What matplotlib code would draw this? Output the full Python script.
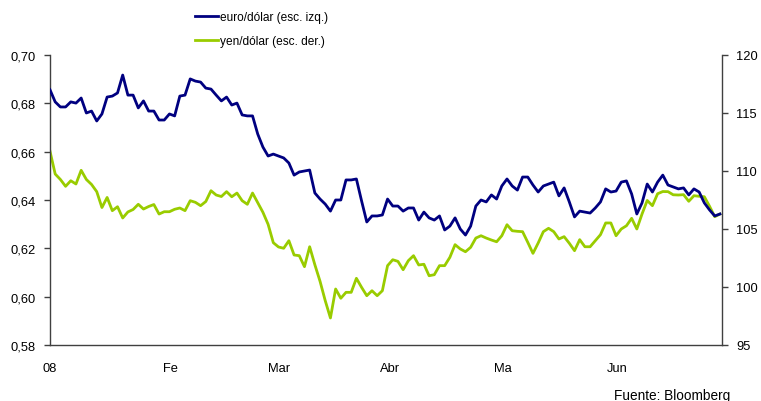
import matplotlib
matplotlib.use("Agg")
import matplotlib.pyplot as plt

euro = [0.6856, 0.6806, 0.6785, 0.6785, 0.6806, 0.6801, 0.6822, 0.6760, 0.6768, 0.6727,
        0.6756, 0.6826, 0.6830, 0.6843, 0.6917, 0.6834, 0.6834, 0.6781, 0.6810, 0.6768,
        0.6768, 0.6731, 0.6731, 0.6756, 0.6748, 0.6830, 0.6834, 0.6901, 0.6892, 0.6888,
        0.6863, 0.6859, 0.6834, 0.6810, 0.6826, 0.6793, 0.6801, 0.6752, 0.6748, 0.6748,
        0.6673, 0.6619, 0.6582, 0.6590, 0.6582, 0.6574, 0.6553, 0.6503, 0.6516, 0.6520,
        0.6524, 0.6429, 0.6404, 0.6383, 0.6354, 0.6400, 0.6400, 0.6483, 0.6483, 0.6487,
        0.6396, 0.6309, 0.6334, 0.6334, 0.6338, 0.6404, 0.6375, 0.6375, 0.6354, 0.6367,
        0.6367, 0.6317, 0.6350, 0.6326, 0.6317, 0.6334, 0.6276, 0.6292, 0.6326, 0.6280,
        0.6255, 0.6292, 0.6375, 0.6400, 0.6392, 0.6421, 0.6404, 0.6458, 0.6487, 0.6458,
        0.6441, 0.6495, 0.6495, 0.6462, 0.6433, 0.6458, 0.6466, 0.6474, 0.6417, 0.6450,
        0.6392, 0.6330, 0.6354, 0.6350, 0.6346, 0.6367, 0.6392, 0.6446, 0.6433, 0.6437,
        0.6474, 0.6479, 0.6425, 0.6342, 0.6388, 0.6466, 0.6433, 0.6474, 0.6503, 0.6462,
        0.6454, 0.6446, 0.6450, 0.6421, 0.6446, 0.6433, 0.6388, 0.6359, 0.6334, 0.6342]

yen = [111.70, 109.74, 109.27, 108.68, 109.16, 108.88, 110.06, 109.27, 108.84, 108.22,
       106.85, 107.72, 106.58, 106.92, 105.95, 106.47, 106.68, 107.13, 106.72, 106.94,
       107.11, 106.29, 106.49, 106.49, 106.70, 106.81, 106.58, 107.44, 107.30, 107.01,
       107.37, 108.30, 107.93, 107.80, 108.22, 107.78, 108.10, 107.44, 107.13, 108.10,
       107.27, 106.44, 105.40, 103.82, 103.45, 103.34, 103.99, 102.76, 102.70, 101.75,
       103.47, 101.92, 100.49, 98.82, 97.33, 99.83, 99.03, 99.54, 99.54, 100.75,
       99.97, 99.25, 99.68, 99.25, 99.68, 101.84, 102.35, 102.21, 101.49, 102.27,
       102.70, 101.90, 101.96, 100.97, 101.06, 101.84, 101.84, 102.56, 103.65, 103.28,
       103.04, 103.42, 104.22, 104.42, 104.22, 104.05, 103.90, 104.42, 105.37, 104.85,
       104.80, 104.77, 103.85, 102.90, 103.79, 104.77, 105.06, 104.77, 104.14, 104.34,
       103.77, 103.13, 104.08, 103.47, 103.47, 103.99, 104.51, 105.52, 105.52, 104.42,
       105.00, 105.28, 105.92, 105.00, 106.29, 107.46, 107.01, 108.04, 108.23, 108.22,
       107.95, 107.93, 107.96, 107.39, 107.87, 107.82, 107.78, 106.96, 106.06, 106.29]

month_labels = ["08", "Fe", "Mar", "Abr", "Ma", "Jun"]
month_pos = [0, 23.1, 44.1, 65.5, 87.2, 109.3]
left_ticks = [0.58, 0.60, 0.62, 0.64, 0.66, 0.68, 0.70]
left_labels = ["0,58", "0,60", "0,62", "0,64", "0,66", "0,68", "0,70"]
right_ticks = [95, 100, 105, 110, 115, 120]
right_labels = ["95", "100", "105", "110", "115", "120"]

NAVY = "#000080"
GREEN = "#99CC00"
FONT = "Liberation Sans"

plt.rcParams["font.family"] = [FONT, "DejaVu Sans"]

fig = plt.figure(figsize=(7.61, 4.02), dpi=100)
ax = fig.add_axes([50 / 761, 1 - 346 / 402, 672 / 761, 290 / 402])
ax2 = ax.twinx()

x = list(range(len(euro)))
l1, = ax.plot(x, euro, color=NAVY, lw=2.0, label="euro/dólar (esc. izq.)", zorder=3)
xg = list(range(len(yen)))
l2, = ax2.plot(xg, yen, color=GREEN, lw=2.0, label="yen/dólar (esc. der.)", zorder=2)

ax.set_xlim(0, 129.4)
ax.set_ylim(0.58, 0.70)
ax2.set_ylim(95, 120)

ax.set_yticks(left_ticks)
ax.set_yticklabels(left_labels)
ax2.set_yticks(right_ticks)
ax2.set_yticklabels(right_labels)
ax.set_xticks(month_pos)
ax.set_xticklabels(month_labels)

for a in (ax, ax2):
    a.spines["top"].set_visible(False)
    for s in ("left", "right", "bottom"):
        a.spines[s].set_color("#404040")
        a.spines[s].set_linewidth(1.0)
ax.spines["right"].set_visible(False)
ax2.spines["left"].set_visible(False)
ax2.spines["bottom"].set_visible(False)

ax.tick_params(axis="y", direction="out", length=4, width=1, color="#404040",
               pad=6, labelsize=9.3, labelcolor="#000000")
ax2.tick_params(axis="y", direction="out", length=4, width=1, color="#404040",
                pad=6, labelsize=9.3, labelcolor="#000000")
ax.tick_params(axis="x", length=0, pad=12.5, labelsize=9.3, labelcolor="#000000")

# put euro line above yen line
ax.set_zorder(ax2.get_zorder() + 1)
ax.patch.set_visible(False)

fig.legend([l1, l2], [l1.get_label(), l2.get_label()],
           loc="upper left", bbox_to_anchor=(195 / 761, 1 - 12 / 402),
           frameon=False, borderpad=0, borderaxespad=0,
           handlelength=1.9, handletextpad=0.2, labelspacing=1.0,
           prop={"family": [FONT, "DejaVu Sans"], "size": 8.6})

fig.text(730 / 761, 1 - 396 / 402, "Fuente: Bloomberg", ha="right", va="center",
         fontsize=9.8, color="#000000")

fig.savefig("out.png", dpi=100)
